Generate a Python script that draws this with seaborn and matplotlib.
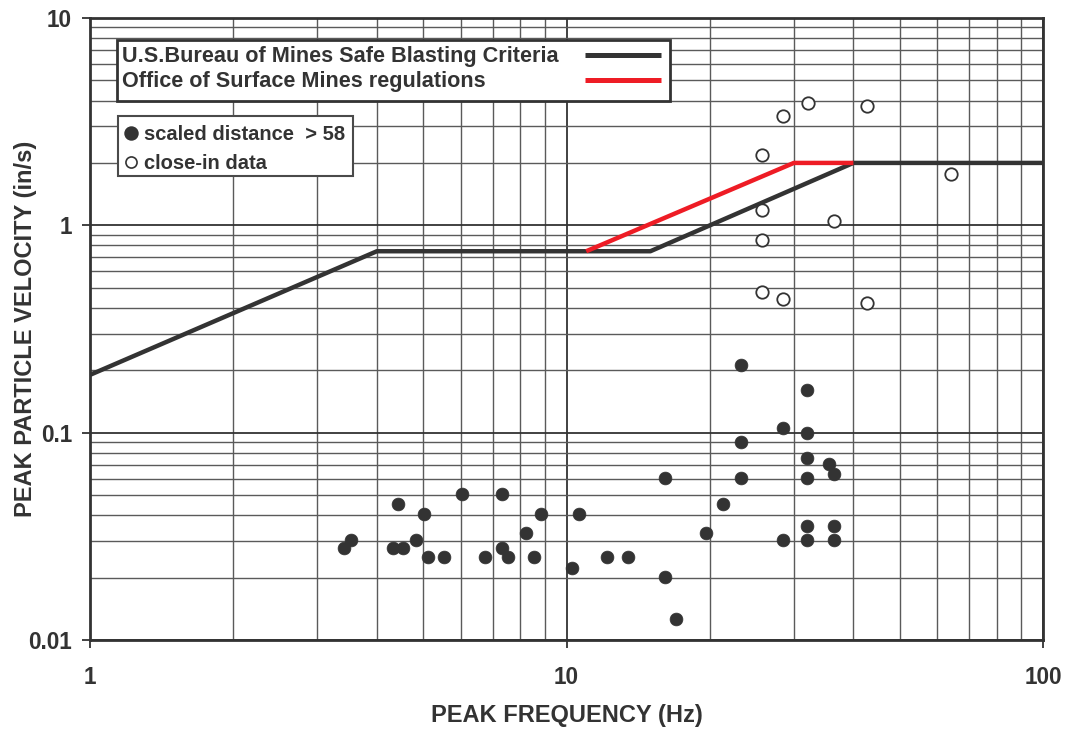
import numpy as np
import pandas as pd
import matplotlib
matplotlib.use("Agg")
import matplotlib.pyplot as plt
import seaborn as sns
from matplotlib.ticker import FixedLocator, FixedFormatter, LogLocator, NullFormatter
from matplotlib.patches import Rectangle

# ---------------- data ----------------
# scaled distance > 58 (filled circles)
far_freq = [3.42, 3.53, 4.42, 4.33, 4.53, 5.02, 4.83, 5.13, 5.53, 6.03, 6.75, 7.32,
            7.32, 7.54, 8.23, 8.83, 8.53, 10.25, 10.64, 12.15, 13.44, 16.07, 16.07,
            16.95, 23.24, 32.0, 28.43, 32.0, 23.24, 32.0, 35.6, 36.5, 23.24, 32.0,
            21.33, 19.63, 32.0, 36.5, 28.43, 32.0, 36.5]
far_ppv = [0.0277, 0.0304, 0.0454, 0.0277, 0.0277, 0.0404, 0.0304, 0.0251, 0.0251,
           0.0505, 0.0251, 0.0505, 0.0277, 0.0251, 0.0328, 0.0404, 0.0251, 0.0222,
           0.0404, 0.0251, 0.0251, 0.0605, 0.0201, 0.0126, 0.212, 0.161, 0.1057,
           0.100, 0.0905, 0.0758, 0.0706, 0.063, 0.0607, 0.0607, 0.0454, 0.0329,
           0.0355, 0.0355, 0.0303, 0.0303, 0.0303]

# close-in data (open circles)
close_freq = [32.07, 28.43, 42.66, 25.69, 64.0, 25.69, 36.42, 25.69, 25.69, 28.43, 42.66]
close_ppv = [3.91, 3.37, 3.77, 2.19, 1.76, 1.187, 1.054, 0.853, 0.476, 0.442, 0.424]

# criteria lines
usbm_freq = [1, 4, 15, 40, 100]
usbm_ppv = [0.19, 0.75, 0.75, 2.0, 2.0]
osm_freq = [11, 30, 40]
osm_ppv = [0.75, 2.0, 2.0]

x_ticks = [1, 10, 100]
x_tick_labels = ["1", "10", "100"]
y_ticks = [0.01, 0.1, 1, 10]
y_tick_labels = ["0.01", "0.1", "1", "10"]

legend_line_labels = ["U.S.Bureau of Mines Safe Blasting Criteria",
                      "Office of Surface Mines regulations"]
legend_point_labels = ["scaled distance  > 58", "close-in data"]

# ---------------- style ----------------
sns.set_theme(style="white")
plt.rcParams['font.family'] = ['Liberation Sans', 'DejaVu Sans']
plt.rcParams['font.weight'] = 'bold'

dark = "#333333"
red = "#ee1c25"

W, H = 1069, 732
L, R, T, B = 90, 1043, 18, 640
fig = plt.figure(figsize=(W / 100, H / 100), dpi=100)
ax = fig.add_axes([L / W, 1 - B / H, (R - L) / W, (B - T) / H])
ax.set_xscale("log")
ax.set_yscale("log")


def ax_xy(px, py):
    return ((px - L) / (R - L), (B - py) / (B - T))


# grid
ax.xaxis.set_minor_locator(LogLocator(base=10, subs=np.arange(2, 10)))
ax.yaxis.set_minor_locator(LogLocator(base=10, subs=np.arange(2, 10)))
ax.xaxis.set_minor_formatter(NullFormatter())
ax.yaxis.set_minor_formatter(NullFormatter())
ax.grid(True, which="major", color=dark, linewidth=1.3, zorder=0)
ax.grid(True, which="minor", color="#5a5a5a", linewidth=1.0, zorder=0)
ax.set_axisbelow(True)

df_usbm = pd.DataFrame({"f": usbm_freq, "v": usbm_ppv})
df_osm = pd.DataFrame({"f": osm_freq, "v": osm_ppv})
sns.lineplot(data=df_usbm, x="f", y="v", color=dark, linewidth=3.2, ax=ax,
             estimator=None, sort=False, zorder=3, solid_capstyle="butt")
sns.lineplot(data=df_osm, x="f", y="v", color=red, linewidth=3.2, ax=ax,
             estimator=None, sort=False, zorder=4, solid_capstyle="butt")

df_far = pd.DataFrame({"f": far_freq, "v": far_ppv})
df_close = pd.DataFrame({"f": close_freq, "v": close_ppv})
sns.scatterplot(data=df_far, x="f", y="v", s=85, color=dark, edgecolor=dark,
                linewidth=0.5, ax=ax, zorder=5)
sns.scatterplot(data=df_close, x="f", y="v", s=80, facecolor="white",
                edgecolor=dark, linewidth=1.3, ax=ax, zorder=5)

ax.set_xlim(1, 100)
ax.set_ylim(0.01, 10)

ax.xaxis.set_major_locator(FixedLocator(x_ticks))
ax.xaxis.set_major_formatter(FixedFormatter(x_tick_labels))
ax.yaxis.set_major_locator(FixedLocator(y_ticks))
ax.yaxis.set_major_formatter(FixedFormatter(y_tick_labels))
ax.tick_params(axis="both", which="major", direction="out", length=6, width=1.3,
               color=dark, labelsize=16.3, labelcolor=dark, bottom=True, left=True)
ax.tick_params(axis="x", which="major", pad=13)
ax.tick_params(axis="y", which="major", pad=7)
ax.tick_params(axis="both", which="minor", length=0)
for lab in ax.get_xticklabels() + ax.get_yticklabels():
    lab.set_fontweight("bold")

ax.set_xlabel("PEAK FREQUENCY (Hz)", fontsize=17, fontweight="bold", color=dark)
ax.set_ylabel("PEAK PARTICLE VELOCITY (in/s)", fontsize=17, fontweight="bold", color=dark)
ax.xaxis.set_label_coords(0.5, (B - 722) / (B - T))
ax.xaxis.label.set_va("baseline")
ax.yaxis.set_label_coords((37 - L) / (R - L), 0.5)

for sp in ax.spines.values():
    sp.set_color(dark)
    sp.set_linewidth(2.0)
    sp.set_visible(True)

# ---- legend 1 : criteria lines (text left, line sample at right) ----
x0, y0 = ax_xy(117, 101)
x1, y1 = ax_xy(670, 40)
ax.add_patch(Rectangle((x0, y0), x1 - x0, y1 - y0, transform=ax.transAxes,
                       facecolor="white", edgecolor=dark, linewidth=2.0, zorder=10))
line_colors = [dark, red]
line_rows = [55, 80.5]
text_base = [62, 87.5]
for lab, col, ly, ty in zip(legend_line_labels, line_colors, line_rows, text_base):
    tx, tyy = ax_xy(122.5, ty)
    ax.text(tx, tyy, lab, transform=ax.transAxes, fontsize=15.6, fontweight="bold",
            color=dark, ha="left", va="baseline", zorder=11)
    lx0, lyy = ax_xy(585, ly)
    lx1, _ = ax_xy(661, ly)
    ax.plot([lx0, lx1], [lyy, lyy], transform=ax.transAxes, color=col, lw=3.6,
            solid_capstyle="butt", zorder=11)

# ---- legend 2 : data points ----
x0, y0 = ax_xy(118, 176)
x1, y1 = ax_xy(353, 116.5)
ax.add_patch(Rectangle((x0, y0), x1 - x0, y1 - y0, transform=ax.transAxes,
                       facecolor="white", edgecolor="#4a4a4a", linewidth=1.5, zorder=10))
pt_face = [dark, "white"]
pt_size = [9.2, 8.0]
pt_rows = [133, 162.5]
pt_text_base = [140, 169.5]
for lab, fc, ms, py, ty in zip(legend_point_labels, pt_face, pt_size, pt_rows, pt_text_base):
    mx, my = ax_xy(131, py)
    ax.plot([mx], [my], transform=ax.transAxes, marker="o", ls="none", markersize=ms,
            markerfacecolor=fc, markeredgecolor=dark, markeredgewidth=1.2, zorder=11)
    tx, tyy = ax_xy(143.5, ty)
    ax.text(tx, tyy, lab, transform=ax.transAxes, fontsize=14.5, fontweight="bold",
            color=dark, ha="left", va="baseline", zorder=11)

fig.savefig("out.png", dpi=100)
